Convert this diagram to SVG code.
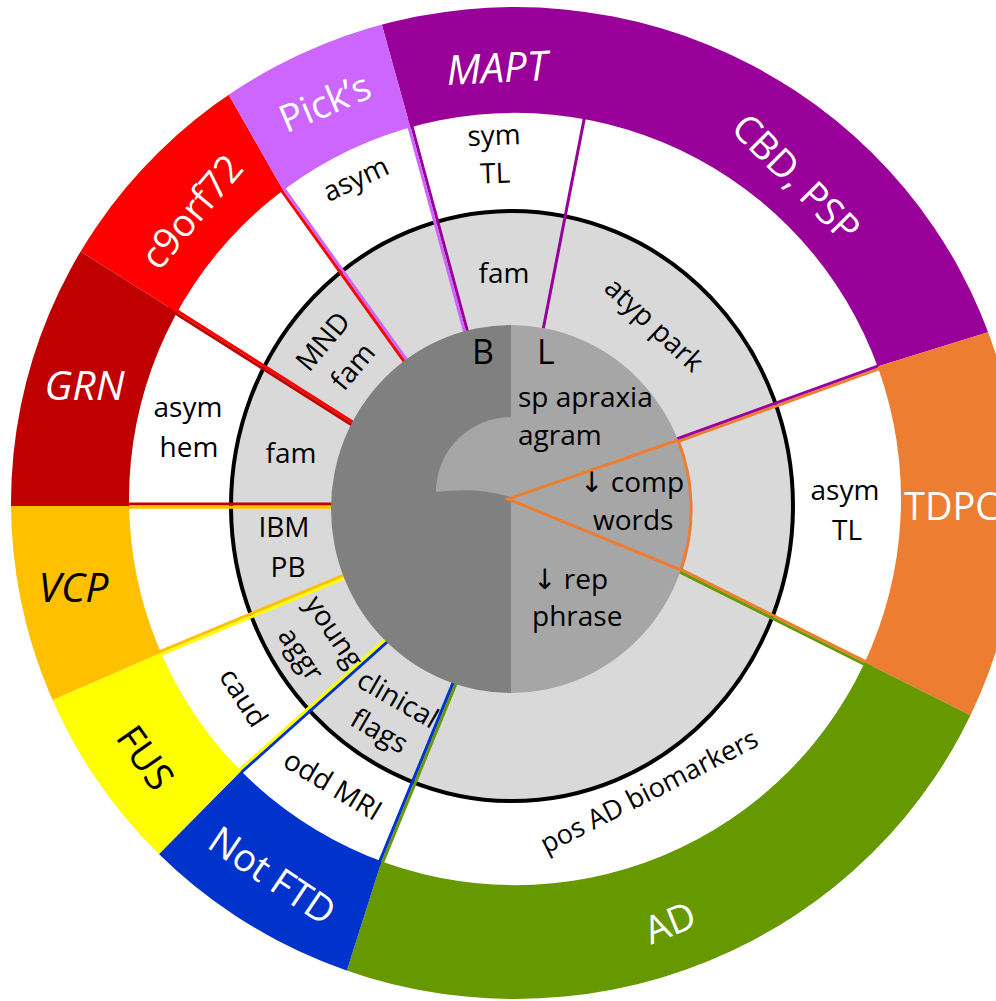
<svg xmlns="http://www.w3.org/2000/svg" width="996" height="1001" viewBox="0 0 996 1001">
<style>
text{font-family:"Open Sans","Noto Sans","DejaVu Sans",sans-serif;}
.o{font-size:38px;fill:#fff;text-anchor:middle}
.ob{font-size:38px;fill:#000;text-anchor:middle}
.it{font-style:italic;font-size:41px}
.w{font-size:28px;fill:#000;text-anchor:middle}
.c{font-size:28px;fill:#000}
.big{font-size:34px;fill:#000}
.ln{stroke-width:3;fill:none;stroke-linecap:butt}
</style>
<defs>
<clipPath id="ring"><path clip-rule="evenodd" d="M11,503 A504,496 0 1 1 1019,503 A504,496 0 1 1 11,503 Z M129,499 A386,386 0 1 0 901,499 A386,386 0 1 0 129,499 Z"/></clipPath>
</defs>
<rect width="996" height="1001" fill="#fff"/>
<g id="gray-ring">
<ellipse cx="512" cy="506" rx="281" ry="295" fill="#d9d9d9" stroke="#000" stroke-width="4"/>
</g>
<g id="connectors">
<line class="ln" stroke="#990099" x1="409.9" y1="118.8" x2="468" y2="333.4"/>
<line class="ln" stroke="#cc66ff" x1="407" y1="119.6" x2="465.2" y2="334.2"/>
<line class="ln" stroke="#cc66ff" x1="280.7" y1="184.2" x2="409.7" y2="364"/>
<line class="ln" stroke="#ff0000" x1="278.3" y1="186" x2="407.3" y2="365.8"/>
<line class="ln" stroke="#ff0000" x1="168.8" y1="305.5" x2="355.8" y2="423.9"/>
<line class="ln" stroke="#c00000" x1="167.2" y1="308.1" x2="354.2" y2="426.5"/>
<line class="ln" stroke="#c00000" x1="124" y1="504" x2="337" y2="504"/>
<line class="ln" stroke="#ffc000" x1="124" y1="507.3" x2="337" y2="507.3"/>
<line class="ln" stroke="#ffff00" x1="158.1" y1="655.7" x2="349.1" y2="576.1"/>
<line class="ln" stroke="#ffc000" x1="156.9" y1="652.9" x2="347.9" y2="573.3"/>
<line class="ln" stroke="#0033cc" x1="241.5" y1="772.1" x2="392.5" y2="637.1"/>
<line class="ln" stroke="#ffff00" x1="239.5" y1="769.9" x2="390.5" y2="634.9"/>
<line class="ln" stroke="#669900" x1="381.1" y1="866.1" x2="458.7" y2="677.1"/>
<line class="ln" stroke="#0033cc" x1="378.3" y1="864.9" x2="455.9" y2="675.9"/>
<line class="ln" stroke="#990099" x1="585.1" y1="114.1" x2="543" y2="330"/>
<line class="ln" stroke="#ed7d31" x1="880.1" y1="368.4" x2="672.9" y2="443.4"/>
<line class="ln" stroke="#990099" x1="879.1" y1="365.6" x2="671.9" y2="440.6"/>
<line class="ln" stroke="#ed7d31" x1="873.1" y1="665.4" x2="676.3" y2="567"/>
<line class="ln" stroke="#669900" x1="871.7" y1="668" x2="674.9" y2="569.6"/>
</g>
<g id="outer-ring">
<g id="seg-mapt">
<polygon clip-path="url(#ring)" fill="#990099" points="418,155 368,-25 368,-100 1100,-100 1100,321.5 1023,321.5 843,377.3"/>
<text class="o it" transform="translate(497,68) rotate(-3)" y="14.5">MAPT</text>
<text class="o" transform="translate(796,178) rotate(45)" y="13">CBD, PSP</text>
</g>
<g id="seg-tdpc">
<polygon clip-path="url(#ring)" fill="#ed7d31" points="843,377.3 1023,321.5 1100,321.5 1100,729 998,729 839.6,649.8"/>
<text style="font-size:38px;fill:#fff" x="904" y="520">TDPC</text>
</g>
<g id="seg-ad">
<polygon clip-path="url(#ring)" fill="#669900" points="839.6,649.8 998,729 1100,729 1100,1100 329.5,1100 329.5,1025 392.5,827"/>
<text class="o" transform="translate(670,923) rotate(-22)" y="13">AD</text>
</g>
<g id="seg-notftd">
<polygon clip-path="url(#ring)" fill="#0033cc" points="392.5,827 329.5,1025 329.5,1100 114.5,1100 114.5,899 271,740.6"/>
<text class="o" transform="translate(272,876) rotate(34)" y="13">Not FTD</text>
</g>
<g id="seg-fus">
<polygon clip-path="url(#ring)" fill="#ffff00" points="271,740.6 114.5,899 -60,899 -60,724 -2,724 196,637.6"/>
<text class="ob" transform="translate(145,758) rotate(55)" y="13">FUS</text>
</g>
<g id="seg-vcp">
<polygon clip-path="url(#ring)" fill="#ffc000" points="196,637.6 -2,724 -60,724 -60,506 166,506"/>
<text class="ob it" x="73.5" y="602">VCP</text>
</g>
<g id="seg-grn">
<polygon clip-path="url(#ring)" fill="#c00000" points="166,506 -60,506 -60,224.5 38,224.5 200,327"/>
<text class="o it" x="84.5" y="400">GRN</text>
</g>
<g id="seg-c9orf72">
<polygon clip-path="url(#ring)" fill="#ff0000" points="200,327 38,224.5 38,50.5 203.5,50.5 299,218"/>
<text class="o" transform="translate(192,212) rotate(-50)" y="13">c9orf72</text>
</g>
<g id="seg-picks">
<polygon clip-path="url(#ring)" fill="#cc66ff" points="299,218 203.5,50.5 203.5,-25 368,-25 418,155"/>
<text class="o" transform="translate(325,103) rotate(-23)" y="13">Pick’s</text>
</g>
</g>
<g id="white-ring-labels">
<text id="lbl-asym-top" class="w" transform="translate(358,184) rotate(-25)" y="4">asym</text>
<text id="lbl-symTL" class="w" transform="translate(495,165) rotate(-2)"><tspan x="0" y="-20">sym</tspan><tspan x="0" y="18">TL</tspan></text>
<text id="lbl-asymhem" class="w"><tspan x="188" y="417">asym</tspan><tspan x="189" y="457">hem</tspan></text>
<text id="lbl-caud" class="w" transform="translate(243,698) rotate(57)" y="9">caud</text>
<text id="lbl-oddmri" class="w" transform="translate(333,785) rotate(31)" y="10">odd MRI</text>
<text id="lbl-posad" class="w" style="font-size:27px" transform="translate(651,795) rotate(-27)" y="5">pos AD biomarkers</text>
<text id="lbl-asymTL" class="w"><tspan x="845" y="500">asym</tspan><tspan x="847" y="540">TL</tspan></text>
</g>
<g id="gray-ring-labels">
<text id="lbl-fam-top" class="w" x="504" y="283">fam</text>
<text id="lbl-atyp" class="w" transform="translate(651,328) rotate(43)" y="5">atyp park</text>
<text id="lbl-mnd" class="w" transform="translate(338,354) rotate(-50)"><tspan x="0" y="-10">MND</tspan><tspan x="0" y="29">fam</tspan></text>
<text id="lbl-fam-left" class="w" x="291" y="463">fam</text>
<text id="lbl-ibm" class="w"><tspan x="284" y="537">IBM</tspan><tspan x="288" y="577">PB</tspan></text>
<text id="lbl-young" class="w" transform="translate(313,646) rotate(56)"><tspan x="0" y="-16">young</tspan><tspan x="0" y="24">aggr</tspan></text>
<text id="lbl-clinical" class="w" transform="translate(388,716) rotate(30)"><tspan x="0" y="-10">clinical</tspan><tspan x="0" y="27">flags</tspan></text>
</g>
<g id="inner-circle">
<path d="M511,325 A180,184 0 0 0 511,693 Z" fill="#808080"/>
<path d="M511,325 A180,184 0 0 1 511,693 Z" fill="#a6a6a6"/>
<path d="M511,417 A75,75 0 0 0 436,492 C460,489 484,489 511,497 Z" fill="#a6a6a6"/>
<path d="M678,440 L508,499 L681,570 A180,184 0 0 0 678,440" fill="none" stroke="#ed7d31" stroke-width="3"/>
<text class="big" x="472" y="364">B</text>
<text class="big" x="537" y="364">L</text>
<text class="c" x="518" y="407">sp apraxia</text>
<text class="c" x="518" y="445">agram</text>
<text class="c" x="580" y="492">↓ comp</text>
<text class="c" x="593" y="530">words</text>
<text class="c" x="533" y="589">↓ rep</text>
<text class="c" x="532" y="626">phrase</text>
</g>
</svg>
